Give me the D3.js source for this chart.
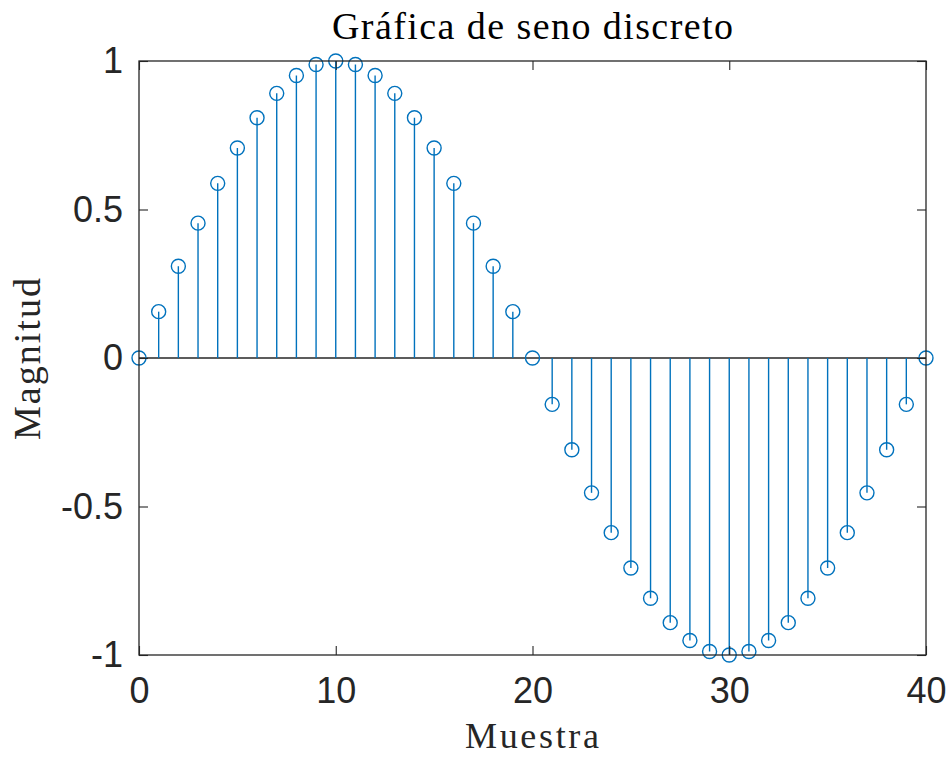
<!DOCTYPE html>
<html>
<head>
<meta charset="utf-8">
<script src="https://cdn.jsdelivr.net/npm/d3@7"></script>
<style>
  body { margin: 0; background: #fff; }
  svg { display: block; }
</style>
</head>
<body>
<script>
// muestras n = 0..40 y su magnitud
var samples = d3.range(0, 41);
var magnitude = [
  0, 0.156, 0.309, 0.454, 0.588, 0.707, 0.809, 0.891, 0.951, 0.988,
  1, 0.988, 0.951, 0.891, 0.809, 0.707, 0.588, 0.454, 0.309, 0.156,
  0, -0.156, -0.309, -0.454, -0.588, -0.707, -0.809, -0.891, -0.951, -0.988,
  -1, -0.988, -0.951, -0.891, -0.809, -0.707, -0.588, -0.454, -0.309, -0.156,
  0
];
var xTicks = [0, 10, 20, 30, 40];
var yTicks = [-1, -0.5, 0, 0.5, 1];

var width = 951, height = 757;
var margin = { left: 139, right: 25, top: 61, bottom: 102 };
var axisColor = "#262626";
var stemColor = "#0072BD";

var svg = d3.select("body").append("svg")
    .attr("width", width)
    .attr("height", height);

var x = d3.scaleLinear().domain([0, 40]).range([margin.left, width - margin.right]);
var y = d3.scaleLinear().domain([-1, 1]).range([height - margin.bottom, margin.top]);

var data = samples.map((n, i) => [n, magnitude[i]]);

// linea base en cero
svg.append("line")
    .attr("x1", x(0)).attr("x2", x(40))
    .attr("y1", y(0)).attr("y2", y(0))
    .attr("stroke", axisColor)
    .attr("stroke-width", 1.3);

// tallos
svg.append("g")
    .selectAll("line")
    .data(data)
    .join("line")
    .attr("x1", (d) => x(d[0]))
    .attr("x2", (d) => x(d[0]))
    .attr("y1", y(0))
    .attr("y2", (d) => y(d[1]))
    .attr("stroke", stemColor)
    .attr("stroke-width", 1.4);

// marcadores
svg.append("g")
    .selectAll("circle")
    .data(data)
    .join("circle")
    .attr("cx", (d) => x(d[0]))
    .attr("cy", (d) => y(d[1]))
    .attr("r", 7)
    .attr("fill", "none")
    .attr("stroke", stemColor)
    .attr("stroke-width", 1.4);

// ejes con ticks hacia dentro en los cuatro lados
var tickLen = 9;
var fontTicks = "'Liberation Sans', Arial, sans-serif";

function styleAxis(g) {
    g.select(".domain").remove();
    g.selectAll(".tick line").attr("stroke", axisColor).attr("stroke-width", 1.1);
    g.selectAll(".tick text")
        .attr("fill", axisColor)
        .style("font-family", fontTicks)
        .style("font-size", "36px");
}

svg.append("g")
    .attr("transform", `translate(0,${y(-1)})`)
    .call(d3.axisBottom(x).tickValues(xTicks).tickSize(-tickLen).tickPadding(22).tickFormat(d3.format("d")))
    .call(styleAxis);

svg.append("g")
    .attr("transform", `translate(0,${y(1)})`)
    .call(d3.axisTop(x).tickValues(xTicks).tickSize(-tickLen).tickFormat(""))
    .call(styleAxis);

svg.append("g")
    .attr("transform", `translate(${x(0)},0)`)
    .call(d3.axisLeft(y).tickValues(yTicks).tickSize(-tickLen).tickPadding(16).tickFormat((d) => String(d)))
    .call(styleAxis);

svg.append("g")
    .attr("transform", `translate(${x(40)},0)`)
    .call(d3.axisRight(y).tickValues(yTicks).tickSize(-tickLen).tickFormat(""))
    .call(styleAxis);

// caja
svg.append("rect")
    .attr("x", x(0)).attr("y", y(1))
    .attr("width", x(40) - x(0))
    .attr("height", y(-1) - y(1))
    .attr("fill", "none")
    .attr("stroke", axisColor)
    .attr("stroke-width", 1.3);

// textos (estilo LaTeX, se ensancha con textLength)
var fontSerif = "'Liberation Serif', 'DejaVu Serif', serif";

svg.append("text")
    .attr("x", 532.5)
    .attr("y", 39)
    .attr("text-anchor", "middle")
    .attr("textLength", 401)
    .attr("lengthAdjust", "spacing")
    .style("font-family", fontSerif)
    .style("font-size", "38px")
    .attr("fill", "#000")
    .text("Gráfica de seno discreto");

svg.append("text")
    .attr("x", 532)
    .attr("y", 748)
    .attr("text-anchor", "middle")
    .attr("textLength", 134)
    .attr("lengthAdjust", "spacing")
    .style("font-family", fontSerif)
    .style("font-size", "36px")
    .attr("fill", "#262626")
    .text("Muestra");

svg.append("text")
    .attr("transform", `translate(40,359) rotate(-90)`)
    .attr("text-anchor", "middle")
    .attr("textLength", 162)
    .attr("lengthAdjust", "spacing")
    .style("font-family", fontSerif)
    .style("font-size", "38px")
    .attr("fill", "#262626")
    .text("Magnitud");
</script>
</body>
</html>
